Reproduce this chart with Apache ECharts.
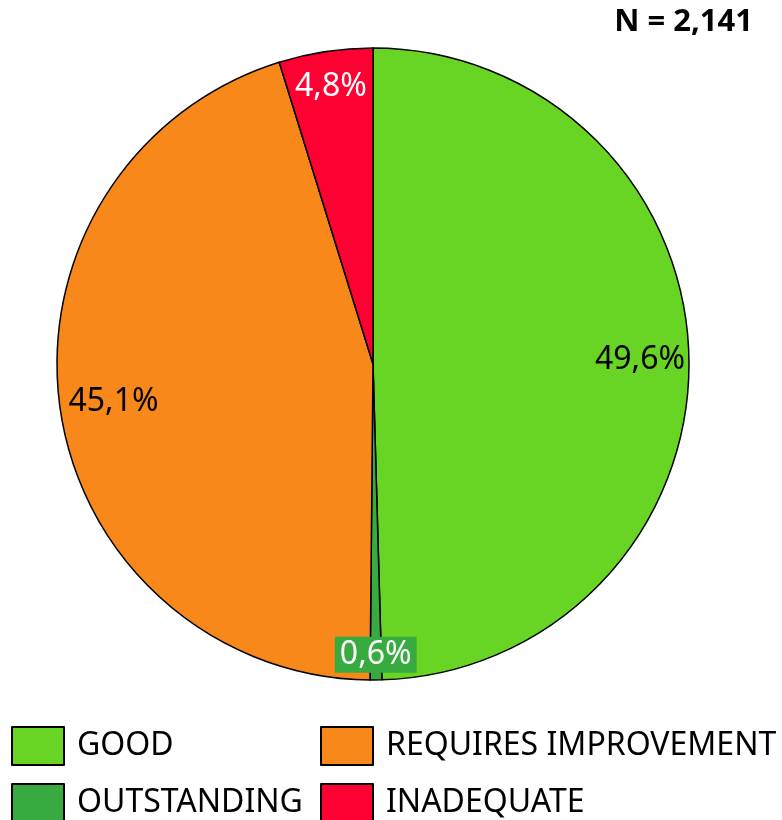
<!DOCTYPE html>
<html>
<head>
<meta charset="utf-8">
<style>
  html, body { margin: 0; padding: 0; background: #fff; }
  #main { width: 782px; height: 820px; }
</style>
<script src="https://cdn.jsdelivr.net/npm/echarts@6/dist/echarts.min.js"></script>
</head>
<body>
<div id="main"></div>
<script>
var categories = ['GOOD', 'OUTSTANDING', 'REQUIRES IMPROVEMENT', 'INADEQUATE'];
var shares = [49.6, 0.6, 45.1, 4.8];
var totalN = '2,141';

var colors = ['#68d424', '#37ab3f', '#f8881a', '#ff0033'];
var labelColors = ['#000', '#fff', '#000', '#fff'];
// how far out along the radius each label sits (Excel best fit)
var labelRadius = [0.845, 0.92, 0.83, 0.887];

var cx = 373, cy = 364, R = 316;
var font = "'Noto Sans', sans-serif";

var chart = echarts.init(document.getElementById('main'));

var pieData = [];
for (var i = 0; i < categories.length; i++) {
	var item = {
		name: categories[i],
		value: shares[i],
		itemStyle: { color: colors[i] },
		label: { color: labelColors[i] }
	};
	if (i == 1) {
		item.label.backgroundColor = colors[1];
		item.label.padding = [3, 5, 1, 5];
	}
	pieData.push(item);
}

function legendCol(names, left) {
	return {
		data: names,
		orient: 'vertical',
		left: left,
		top: 726,
		height: 120,
		padding: 0,
		icon: 'rect',
		itemWidth: 52,
		itemHeight: 38,
		itemGap: 17,
		itemStyle: { borderColor: '#000', borderWidth: 2 },
		textStyle: { fontFamily: font, fontSize: 32, lineHeight: 38, color: '#000', padding: [0, 0, 0, 8] }
	};
}

var option = {
	animation: false,
	title: {
		text: 'N = ' + totalN,
		right: 24,
		top: 2,
		textStyle: { fontFamily: font, fontSize: 31, fontWeight: 'bold', color: '#000' }
	},
	legend: [legendCol([categories[0], categories[1]], 11), legendCol([categories[2], categories[3]], 320)],
	series: [{
		type: 'pie',
		center: [cx, cy],
		radius: R,
		startAngle: 90,
		clockwise: true,
		avoidLabelOverlap: false,
		itemStyle: { borderColor: '#000', borderWidth: 1.5 },
		emphasis: { disabled: true },
		label: {
			show: true,
			position: 'inside',
			fontFamily: font,
			fontSize: 32,
			formatter: function (p) {
				return p.value.toFixed(1).replace('.', ',') + '%';
			}
		},
		labelLayout: function (p) {
			var r = p.labelRect;
			var lx = r.x + r.width / 2, ly = r.y + r.height / 2;
			var dx = lx - cx, dy = ly - cy;
			var d = Math.sqrt(dx * dx + dy * dy) || 1;
			var k = labelRadius[p.dataIndex] * R / d - 1;
			return { dx: dx * k, dy: dy * k };
		},
		data: pieData
	}]
};
chart.setOption(option);
</script>
</body>
</html>
